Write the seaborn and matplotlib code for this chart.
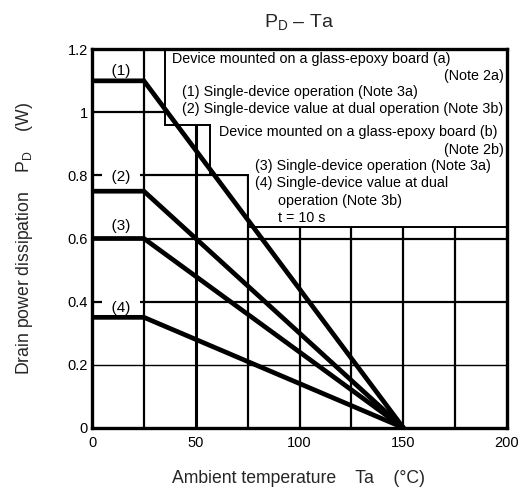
import numpy as np
import pandas as pd
import matplotlib
matplotlib.use("Agg")
import matplotlib.pyplot as plt
import seaborn as sns

# derating curves: flat up to 25 C, then straight down to 0 W at 150 C
ta = [0, 25, 150]
curve_names = ["(1)", "(2)", "(3)", "(4)"]
pd_1 = [1.10, 1.10, 0.0]
pd_2 = [0.75, 0.75, 0.0]
pd_3 = [0.60, 0.60, 0.0]
pd_4 = [0.35, 0.35, 0.0]

# where the curve labels sit
label_x = [14, 14, 14, 14]
label_y = [1.13, 0.795, 0.64, 0.38]

# stepped white note panel (Ta, PD corners)
box_x = [35, 35, 57, 57, 75, 75, 200, 200]
box_y = [1.2, 0.96, 0.96, 0.80, 0.80, 0.635, 0.635, 1.2]

x_ticks = [0, 50, 100, 150, 200]
y_ticks = [0, 0.2, 0.4, 0.6, 0.8, 1.0, 1.2]
y_ticklabels = ["0", "0.2", "0.4", "0.6", "0.8", "1", "1.2"]
x_grid = [25, 50, 75, 100, 125, 150, 175]
y_grid = [0.2, 0.4, 0.6, 0.8, 1.0]

notes = [
    ("Device mounted on a glass-epoxy board (a)", 38.5, 1.168, "left"),
    ("(Note 2a)", 198.5, 1.115, "right"),
    ("(1) Single-device operation (Note 3a)", 43.5, 1.064, "left"),
    ("(2) Single-device value at dual operation (Note 3b)", 43.5, 1.011, "left"),
    ("Device mounted on a glass-epoxy board (b)", 61.0, 0.937, "left"),
    ("(Note 2b)", 198.5, 0.881, "right"),
    ("(3) Single-device operation (Note 3a)", 78.5, 0.831, "left"),
    ("(4) Single-device value at dual", 78.5, 0.775, "left"),
    ("operation (Note 3b)", 89.5, 0.720, "left"),
    ("t = 10 s", 89.5, 0.664, "left"),
]

df = pd.DataFrame({
    "ta": ta * 4,
    "pd": pd_1 + pd_2 + pd_3 + pd_4,
    "curve": np.repeat(curve_names, len(ta)),
})

sns.set_theme(style="white")
plt.rcParams["font.family"] = ["Liberation Sans", "DejaVu Sans"]
plt.rcParams["mathtext.fontset"] = "custom"
plt.rcParams["mathtext.rm"] = "Liberation Sans"

fig = plt.figure(figsize=(5.31, 4.94), dpi=100)
ax = fig.add_axes([0.1733, 0.1342, 0.7815, 0.766])

for gx in x_grid:
    ax.axvline(gx, color="black", lw=2.2 if gx == 50 else 1.6, zorder=1)
for gy in y_grid:
    ax.axhline(gy, color="black", lw=1.0 if gy == 0.2 else 1.6, zorder=1)

# white panel holding the notes, covers the grid behind it
ax.fill(box_x, box_y, facecolor="white", edgecolor="black", lw=1.4, zorder=2)

sns.lineplot(data=df, x="ta", y="pd", units="curve", estimator=None,
             color="black", lw=3.4, sort=False, ax=ax, zorder=3)
for line in ax.get_lines():
    line.set_solid_joinstyle("miter")

# curve labels knock a gap out of the grid, but stay under the curves
for name, lx, ly in zip(curve_names, label_x, label_y):
    ax.text(lx, ly, "  " + name + "  ", ha="center", va="center", fontsize=11,
            color="black", zorder=2.5,
            bbox=dict(facecolor="white", edgecolor="none", pad=1.0))

for txt, nx, ny, ha in notes:
    ax.text(nx, ny, txt, ha=ha, va="center", fontsize=10.3, color="black", zorder=4)

ax.set_xlim(0, 200)
ax.set_ylim(0, 1.2)
ax.set_xticks(x_ticks)
ax.set_yticks(y_ticks)
ax.set_yticklabels(y_ticklabels)
ax.tick_params(axis="both", length=0, labelsize=10.5, colors="black")
ax.tick_params(axis="x", pad=6)
ax.tick_params(axis="y", pad=3)
ax.set_xlabel("")
ax.set_ylabel("")
for sp in ax.spines.values():
    sp.set_color("black")
    sp.set_linewidth(2.4)
    sp.set_zorder(5)

fig.text(0.563, 0.956, r"$\mathrm{P_D}$ – Ta", ha="center", va="center", fontsize=14)
fig.text(0.563, 0.032, "Ambient temperature    Ta    (°C)", ha="center", va="center", fontsize=12.7)
fig.text(0.047, 0.518, r"Drain power dissipation    $\mathrm{P_D}$    (W)", ha="center", va="center",
         rotation=90, fontsize=12.7)

fig.savefig("out.png", dpi=100, facecolor="white")
